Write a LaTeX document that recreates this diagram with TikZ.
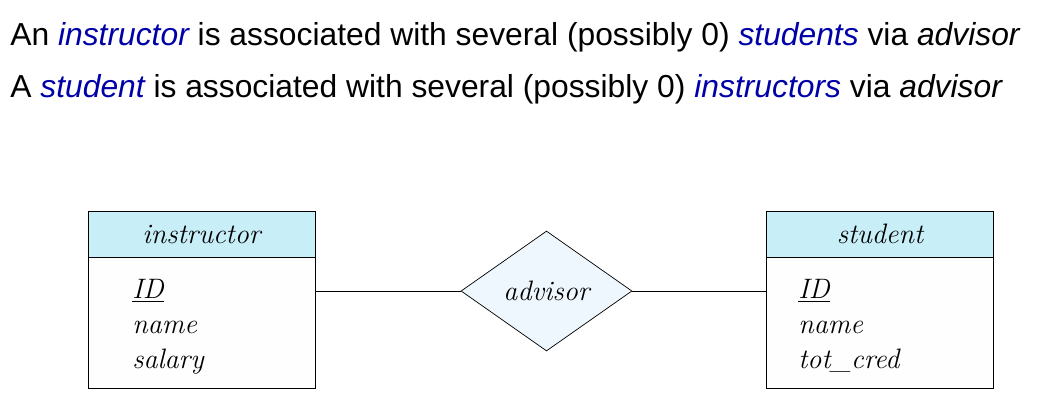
\documentclass[tikz,border=0pt]{standalone}
\usepackage{fontspec}
\usepackage{xcolor}
\usetikzlibrary{shapes.geometric,positioning}
\newfontfamily\headfont{Liberation Sans}
\definecolor{darkblue_word}{RGB}{0,0,168}
\definecolor{header_fill}{RGB}{200,238,248}
\definecolor{diamond_fill}{RGB}{238,247,253}
\definecolor{body_fill}{RGB}{254,254,254}
\tikzset{
    sentence/.style = {anchor=base west, inner sep=0, font=\headfont\fontsize{18.1}{21}\selectfont},
    enthead/.style = {draw, thin, fill=header_fill, minimum width=4.54cm, minimum height=0.92cm, inner sep=0, font=\fontsize{16}{19}\selectfont\itshape},
    entbody/.style = {draw, thin, fill=body_fill, minimum width=4.54cm, minimum height=2.62cm, inner sep=0},
    attrs/.style = {anchor=north west, inner sep=0, align=left, font=\fontsize{16}{20}\selectfont\itshape},
    relship/.style = {diamond, draw, thin, fill=diamond_fill, minimum width=3.42cm, minimum height=2.4cm, inner sep=0, font=\fontsize{16}{19}\selectfont\itshape}
}
\newcommand{\bw}[1]{\textcolor{darkblue_word}{\itshape #1}}
\begin{document}
\begin{tikzpicture}[x=0.02cm, y=-0.02cm]
        \useasboundingbox (0,0) rectangle (1048,417);
        % the two sentences
        \node[sentence] (line_one) at (10,45) {An \bw{instructor} is associated with several (possibly 0) \bw{students} via \textit{advisor}};
        \node[sentence] (line_two) at (10,97) {A \bw{student} is associated with several (possibly 0) \bw{instructors} via \textit{advisor}};
        % instructor entity
        \node[enthead] (instr_head) at (201.5,234) {instructor};
        \node[entbody, below=0cm of instr_head] (instr_body) {};
        \node[attrs] (instr_attrs) at (132,279) {\underline{ID}\\name\\salary};
        % student entity
        \node[enthead] (stud_head) at (880,234) {student};
        \node[entbody, below=0cm of stud_head] (stud_body) {};
        \node[attrs] (stud_attrs) at (798,279) {\underline{ID}\\name\\tot\_cred};
        % relationship set
        \node[relship] (advisor) at (546.5,291) {advisor};
        \draw[thin] (advisor.west) -- (advisor.west -| instr_body.east);
        \draw[thin] (advisor.east) -- (advisor.east -| stud_body.west);
    \end{tikzpicture}
\end{document}
